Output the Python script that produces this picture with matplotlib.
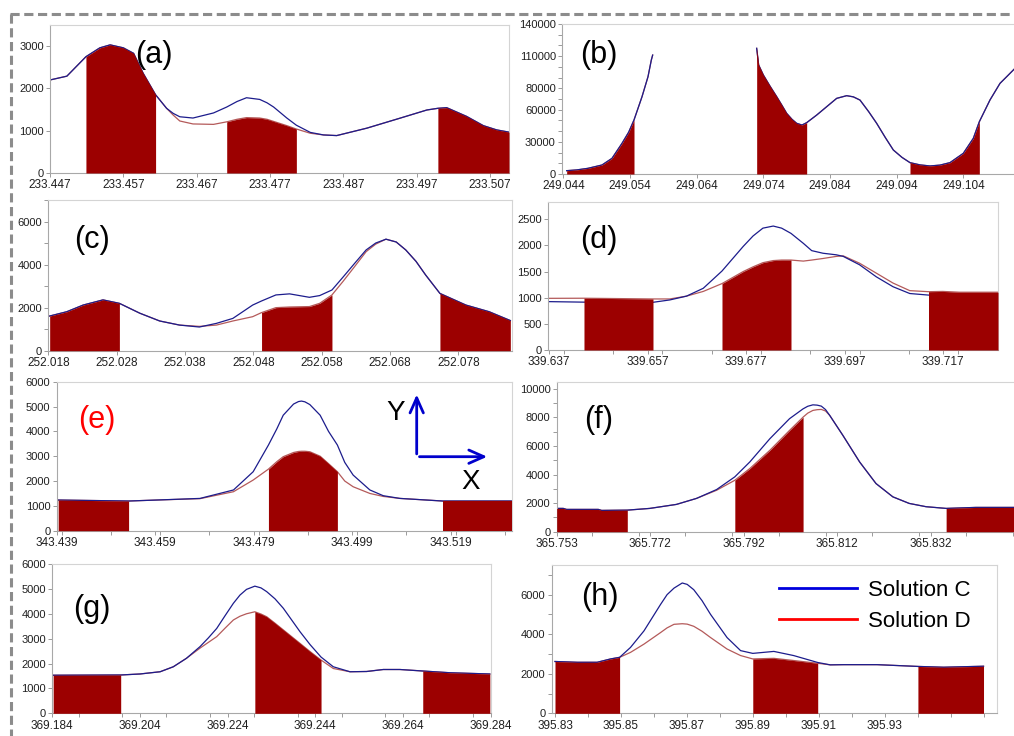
import numpy as np
import matplotlib.pyplot as plt
from matplotlib.lines import Line2D
from matplotlib.patches import FancyArrowPatch
from matplotlib.ticker import MultipleLocator

# ---- datos ----
# (a)
xa = [233.4470, 233.4493, 233.4519, 233.4538, 233.4552, 233.4570, 233.4584, 233.4597, 233.4614,
      233.4629, 233.4638, 233.4647, 233.4665, 233.4693, 233.4711, 233.4725, 233.4738, 233.4756,
      233.4766, 233.4775, 233.4793, 233.4806, 233.4825, 233.4843, 233.4861, 233.4902, 233.4948,
      233.4984, 233.4999, 233.5011, 233.5038, 233.5061, 233.5079, 233.5096]
ca = [2200, 2290, 2750, 2960, 3030, 2960, 2830, 2360, 1850, 1530, 1410, 1330, 1300, 1420, 1560,
      1690, 1780, 1740, 1660, 1560, 1300, 1130, 960, 900, 885, 1060, 1300, 1490, 1530, 1545,
      1340, 1120, 1020, 966]
da = [2200, 2290, 2750, 2960, 3030, 2960, 2830, 2360, 1850, 1530, 1370, 1230, 1160, 1150, 1210,
      1270, 1310, 1300, 1270, 1220, 1120, 1040, 940, 900, 885, 1060, 1300, 1490, 1530, 1545,
      1340, 1120, 1020, 966]
fill_a = [(233.4519, 233.4614), (233.4711, 233.4806), (233.4999, 233.5096)]

# (b)  (hueco sin datos entre los dos tramos)
xb = [249.0445, 249.0460, 249.0477, 249.0498, 249.0513, 249.0528, 249.0538, 249.0546, 249.0558,
      249.0567, 249.0572, 249.0574, 249.0650, 249.0730, 249.0733, 249.0740, 249.0750, 249.0760,
      249.0768, 249.0775, 249.0783, 249.0790, 249.0798, 249.0805, 249.0820, 249.0835, 249.0850,
      249.0865, 249.0875, 249.0885, 249.0898, 249.0910, 249.0923, 249.0935, 249.0948, 249.0960,
      249.0975, 249.0990, 249.1005, 249.1020, 249.1040, 249.1055, 249.1064, 249.1080, 249.1095,
      249.1105, 249.1116]
cb = [3100, 3800, 5300, 8400, 14600, 28600, 39000, 50400, 72100, 90800, 106400, 111000, None,
      117300, 101700, 92400, 82000, 72200, 64000, 56600, 51000, 47300, 45700, 47900, 55000, 62800,
      70600, 73100, 72000, 69000, 58200, 47300, 34000, 22400, 15500, 10600, 8500, 7500, 8300,
      10600, 19300, 33300, 48800, 69100, 84600, 90800, 97700]
db = cb
fill_b = [(249.0445, 249.0546), (249.0730, 249.0805), (249.0960, 249.1064)]

# (c)
xc = [252.0182, 252.0207, 252.0231, 252.0260, 252.0284, 252.0314, 252.0343, 252.0372, 252.0401,
      252.0426, 252.0450, 252.0479, 252.0492, 252.0513, 252.0533, 252.0562, 252.0577, 252.0595,
      252.0611, 252.0628, 252.0645, 252.0659, 252.0674, 252.0689, 252.0703, 252.0718, 252.0732,
      252.0753, 252.0791, 252.0825, 252.0856]
cc = [1610, 1810, 2120, 2360, 2200, 1740, 1380, 1190, 1100, 1270, 1500, 2120, 2310, 2590, 2640,
      2480, 2560, 2820, 3410, 4050, 4680, 5000, 5180, 5050, 4680, 4150, 3520, 2660, 2120, 1810, 1400]
dc = [1610, 1810, 2120, 2360, 2200, 1740, 1380, 1190, 1130, 1190, 1380, 1580, 1770, 2000, 2030,
      2050, 2200, 2590, 3210, 3900, 4600, 4950, 5180, 5050, 4680, 4150, 3520, 2660, 2120, 1810, 1400]
fill_c = [(252.0182, 252.0284), (252.0492, 252.0595), (252.0753, 252.0856)]

# (d)
xd = [339.6370, 339.6441, 339.6494, 339.6581, 339.6615, 339.6649, 339.6683, 339.6721, 339.6764,
      339.6784, 339.6804, 339.6825, 339.6842, 339.6861, 339.6886, 339.6903, 339.6926, 339.6953,
      339.6967, 339.7000, 339.7034, 339.7068, 339.7102, 339.7140, 339.7169, 339.7203, 339.7281]
cd = [925, 915, 918, 912, 957, 1030, 1180, 1510, 1980, 2180, 2330, 2370, 2330, 2230, 2040, 1900,
      1850, 1820, 1790, 1630, 1400, 1210, 1080, 1050, 1050, 1050, 1050]
dd = [988, 990, 985, 976, 976, 1030, 1120, 1270, 1500, 1590, 1670, 1710, 1720, 1720, 1700, 1720,
      1750, 1790, 1800, 1660, 1470, 1280, 1135, 1115, 1120, 1105, 1105]
fill_d = [(339.6441, 339.6581), (339.6721, 339.6861), (339.7140, 339.7281)]

# (e)
xe = [343.4393, 343.4536, 343.4593, 343.4681, 343.4749, 343.4789, 343.4820, 343.4837, 343.4850,
      343.4871, 343.4881, 343.4887, 343.4894, 343.4904, 343.4925, 343.4942, 343.4960, 343.4975,
      343.4992, 343.5026, 343.5053, 343.5087, 343.5174, 343.5314]
ce = [1235, 1195, 1235, 1300, 1640, 2375, 3450, 4100, 4650, 5100, 5200, 5220, 5190, 5080, 4650,
      4000, 3450, 2750, 2240, 1640, 1410, 1300, 1195, 1195]
de = [1235, 1195, 1235, 1290, 1570, 2040, 2480, 2780, 2980, 3150, 3190, 3200, 3200, 3180, 3000,
      2700, 2375, 2000, 1770, 1500, 1380, 1300, 1195, 1195]
fill_e = [(343.4393, 343.4536), (343.4820, 343.4960), (343.5174, 343.5314)]

# (f)
xf = [365.7525, 365.7539, 365.7546, 365.7614, 365.7621, 365.7676, 365.7724, 365.7781, 365.7824,
      365.7867, 365.7906, 365.7938, 365.7981, 365.8023, 365.8052, 365.8062, 365.8073, 365.8082,
      365.8091, 365.8100, 365.8109, 365.8137, 365.8173, 365.8208, 365.8244, 365.8279, 365.8315,
      365.8358, 365.8422, 365.8514]
cf = [1630, 1630, 1560, 1560, 1490, 1510, 1630, 1910, 2330, 2950, 3840, 4880, 6510, 7910, 8600,
      8780, 8880, 8860, 8790, 8550, 8140, 6750, 4880, 3370, 2440, 1980, 1750, 1630, 1700, 1700]
df = [1630, 1630, 1560, 1560, 1490, 1510, 1630, 1910, 2330, 2900, 3600, 4420, 5700, 7090, 8020,
      8300, 8490, 8540, 8560, 8450, 8140, 6750, 4880, 3370, 2440, 1980, 1750, 1630, 1700, 1700]
fill_f = [(365.7525, 365.7676), (365.7906, 365.8052), (365.8358, 365.8514)]

# (g)
xg = [369.1842, 369.1996, 369.2040, 369.2086, 369.2116, 369.2146, 369.2177, 369.2196, 369.2215,
      369.2234, 369.2253, 369.2268, 369.2283, 369.2302, 369.2316, 369.2329, 369.2348, 369.2367,
      369.2386, 369.2405, 369.2428, 369.2453, 369.2481, 369.2519, 369.2557, 369.2595, 369.2633,
      369.2685, 369.2747, 369.2838]
cg = [1530, 1540, 1580, 1670, 1870, 2210, 2680, 3030, 3410, 3920, 4420, 4750, 4980, 5110, 5040,
      4890, 4600, 4220, 3750, 3280, 2760, 2260, 1870, 1670, 1680, 1760, 1760, 1700, 1630, 1580]
dg = [1530, 1540, 1580, 1670, 1870, 2210, 2620, 2850, 3080, 3420, 3750, 3900, 4000, 4080, 3990,
      3880, 3620, 3350, 3080, 2810, 2480, 2140, 1800, 1670, 1680, 1760, 1760, 1700, 1630, 1580]
fill_g = [(369.1842, 369.1996), (369.2302, 369.2453), (369.2685, 369.2838)]

# (h)
xh = [395.8300, 395.8368, 395.8428, 395.8469, 395.8496, 395.8529, 395.8570, 395.8620, 395.8640,
      395.8661, 395.8686, 395.8701, 395.8721, 395.8746, 395.8772, 395.8822, 395.8863, 395.8900,
      395.8964, 395.9024, 395.9097, 395.9135, 395.9176, 395.9277, 395.9401, 395.9479, 395.9600]
ch = [2620, 2580, 2580, 2750, 2830, 3330, 4170, 5500, 6000, 6330, 6590, 6520, 6250, 5700, 5000,
      3830, 3170, 3030, 3130, 2920, 2570, 2450, 2460, 2460, 2370, 2330, 2380]
dh = [2620, 2580, 2580, 2750, 2830, 3080, 3500, 4080, 4320, 4500, 4530, 4510, 4400, 4150, 3830,
      3250, 2920, 2750, 2780, 2670, 2530, 2450, 2460, 2460, 2370, 2330, 2380]
fill_h = [(395.8300, 395.8496), (395.8900, 395.9097), (395.9401, 395.9600)]

# ticks
ticks_a = ['233.447', '233.457', '233.467', '233.477', '233.487', '233.497', '233.507']
ticks_b = ['249.044', '249.054', '249.064', '249.074', '249.084', '249.094', '249.104']
ticks_c = ['252.018', '252.028', '252.038', '252.048', '252.058', '252.068', '252.078']
ticks_d = ['339.637', '339.657', '339.677', '339.697', '339.717']
ticks_e = ['343.439', '343.459', '343.479', '343.499', '343.519']
ticks_f = ['365.753', '365.772', '365.792', '365.812', '365.832']
ticks_g = ['369.184', '369.204', '369.224', '369.244', '369.264', '369.284']
ticks_h = ['395.83', '395.85', '395.87', '395.89', '395.91', '395.93']
yt_b = [0, 30000, 60000, 80000, 110000, 140000]

plt.rcParams['font.family'] = ['Liberation Sans', 'DejaVu Sans']

W, H = 1014, 736
fig = plt.figure(figsize=(W / 100, H / 100), dpi=100)


def caja(l, r, t, b):
    return [l / W, 1 - b / H, (r - l) / W, (b - t) / H]


def fpos(x, y):
    return (x / W, 1 - y / H)


def panel(rect, x, c, d, fills, xlim, ylim, xt0, xstep, xlabels, yticks, xminor=None, yminor=None):
    ax = fig.add_axes(rect)
    x = np.array(x, float)
    c = np.array([np.nan if v is None else v for v in c], float)
    d = np.array([np.nan if v is None else v for v in d], float)
    ax.plot(x, d, color='#b45a5a', lw=0.9, zorder=2)
    ax.plot(x, c, color='#1c1c8c', lw=0.9, zorder=2.1)
    for a, b in fills:
        m = (x >= a - 1e-7) & (x <= b + 1e-7)
        ax.fill_between(x[m], 0, d[m], color='#9c0000', lw=0, zorder=3)
    ax.set_xlim(*xlim)
    ax.set_ylim(*ylim)
    ax.set_xticks([xt0 + i * xstep for i in range(len(xlabels))])
    ax.set_xticklabels(xlabels)
    ax.set_yticks(yticks)
    ax.set_yticklabels([str(v) for v in yticks])
    if xminor:
        ax.xaxis.set_minor_locator(MultipleLocator(xminor))
    if yminor:
        ax.yaxis.set_minor_locator(MultipleLocator(yminor))
    for s in ['top', 'right']:
        ax.spines[s].set_color('#d4d4d4')
    for s in ['left', 'bottom']:
        ax.spines[s].set_color('#a8a8a8')
    for s in ax.spines.values():
        s.set_linewidth(0.8)
    ax.tick_params(which='both', direction='out', length=3, width=0.7, color='#9a9a9a',
                   labelcolor='#202020', pad=1.5)
    ax.tick_params(axis='x', labelsize=8.5)
    ax.tick_params(axis='y', labelsize=8)
    return ax


panel(caja(50, 509, 25, 173), xa, ca, da, fill_a, (233.447, 233.5096), (0, 3500),
      233.447, 0.01, ticks_a, [0, 1000, 2000, 3000])
panel(caja(562, 1020, 24, 174), xb, cb, db, fill_b, (249.0438, 249.1125), (0, 140000),
      249.044, 0.01, ticks_b, yt_b, yminor=10000)
panel(caja(48.3, 511.7, 200, 350.7), xc, cc, dc, fill_c, (252.018, 252.0858), (0, 7000),
      252.018, 0.01, ticks_c, [0, 2000, 4000, 6000], yminor=1000)
panel(caja(548, 998, 202, 350), xd, cd, dd, fill_d, (339.6368, 339.7281), (0, 2830),
      339.637, 0.02, ticks_d, [0, 500, 1000, 1500, 2000, 2500], xminor=0.01)
panel(caja(56.7, 511.7, 381.7, 530.7), xe, ce, de, fill_e, (343.439, 343.5314), (0, 6000),
      343.439, 0.02, ticks_e, [0, 1000, 2000, 3000, 4000, 5000, 6000], xminor=0.01)
panel(caja(556.7, 1020, 381.7, 531.7), xf, cf, df, fill_f, (365.7525, 365.8516), (0, 10500),
      365.7525, 0.02, ticks_f, [0, 2000, 4000, 6000, 8000, 10000], xminor=0.01, yminor=1000)
panel(caja(52.3, 490.7, 564, 713.3), xg, cg, dg, fill_g, (369.184, 369.284), (0, 6000),
      369.184, 0.02, ticks_g, [0, 1000, 2000, 3000, 4000, 5000, 6000], xminor=0.01)
panel(caja(551.7, 996.7, 565, 713.3), xh, ch, dh, fill_h, (395.829, 395.964), (0, 7500),
      395.83, 0.02, ticks_h, [0, 2000, 4000, 6000], xminor=0.01, yminor=1000)

# etiquetas de los paneles
etiquetas = ['(a)', '(b)', '(c)', '(d)', '(e)', '(f)', '(g)', '(h)']
centros = [(154, 55), (599, 55), (92.5, 240), (599, 240), (96.5, 420), (599, 420), (92, 609), (600, 597)]
for txt, (cx, cy) in zip(etiquetas, centros):
    fig.text(*fpos(cx, cy), txt, fontsize=22, ha='center', va='center',
             color='red' if txt == '(e)' else 'black')

# ejes X / Y dibujados en (e)
for destino in [(416.7, 391.7), (490, 456.7)]:
    fig.add_artist(FancyArrowPatch(fpos(416.7, 456.7), fpos(*destino), transform=fig.transFigure,
                                   arrowstyle='->,head_length=0.9,head_width=0.4', mutation_scale=12,
                                   color='#0000cc', lw=2))
fig.text(*fpos(396, 413), 'Y', fontsize=20, ha='center', va='center')
fig.text(*fpos(471, 482), 'X', fontsize=20, ha='center', va='center')

# leyenda
proxies = [Line2D([], [], color='#0000dd', lw=2), Line2D([], [], color='#ff0000', lw=2)]
fig.legend(proxies, ['Solution C', 'Solution D'], loc='upper left', bbox_to_anchor=fpos(779, 580),
           frameon=False, fontsize=16, handlelength=3.5, handletextpad=0.5, labelspacing=0.45,
           borderpad=0, borderaxespad=0)

# borde discontinuo
estilo = dict(color='#8c8c8c', lw=2.2, linestyle=(0, (3, 1.5)), transform=fig.transFigure)
fig.add_artist(Line2D([10 / W, 1], [1 - 14 / H, 1 - 14 / H], **estilo))
fig.add_artist(Line2D([10.5 / W, 10.5 / W], [1 - 14 / H, 0], **estilo))

plt.savefig('out.png', dpi=100)
